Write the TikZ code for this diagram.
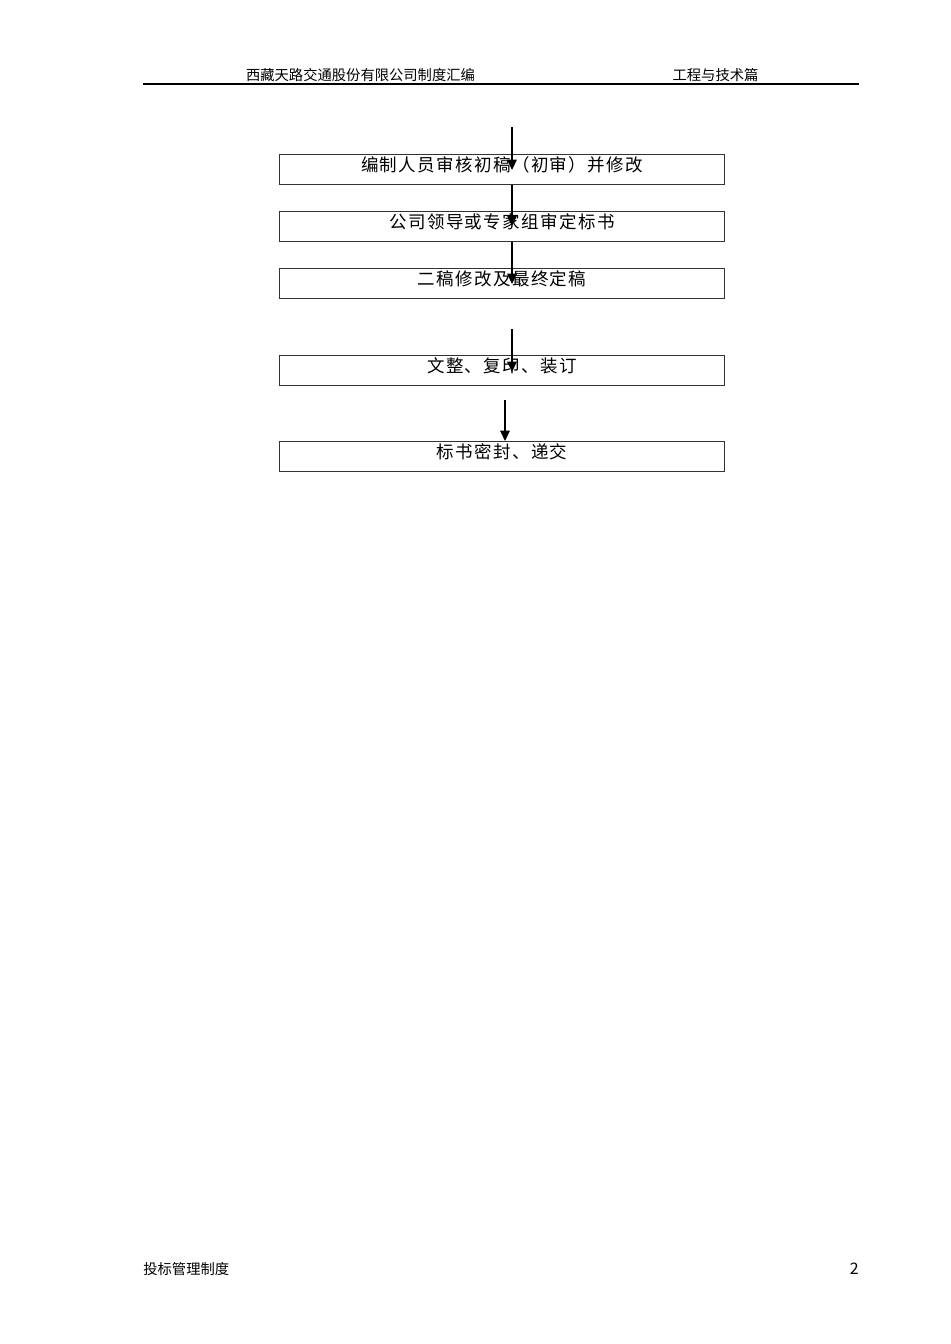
\documentclass[tikz,border=0pt]{standalone}
\usepackage{fontspec}
\setmainfont{Noto Sans CJK SC}
\usepackage{tikz}
\usetikzlibrary{
  arrows.meta,
  positioning
}

\begin{document}
\begin{tikzpicture}[
        x=0.22105mm,y=-0.22105mm,
        stepbox/.style={
            draw=black!80,
            line width=0.6pt,
            minimum width=98.37mm,
            minimum height=6.63mm,
            inner sep=0pt,
            text height=10.5pt,
            text depth=8.3pt,
            font=\addfontfeature{LetterSpace=8}\fontsize{11pt}{13pt}\selectfont,
            anchor=north west
          },
        flow/.style={
            line width=0.75pt,
            -{Triangle[width=6pt,length=6.5pt]}
          },
        pagetext/.style={
            font=\fontsize{9pt}{11pt}\selectfont,
            inner sep=0pt
          }
      ]
      \useasboundingbox (0,0) rectangle (950,1344);

      % 页眉
      \node[pagetext] (head_left) at (360.5,75) {西藏天路交通股份有限公司制度汇编};
      \node[pagetext] (head_right) at (715.5,75) {工程与技术篇};
      \coordinate (rule_l) at (143,84);
      \coordinate (rule_r) at (859,84);
      \draw[line width=1pt] (rule_l) -- (rule_r);

      % 流程框
      \node[stepbox] (review) at (279,154) {编制人员审核初稿（初审）并修改};
      \node[stepbox] (approve) at (279,211) {公司领导或专家组审定标书};
      \node[stepbox] (final) at (279,268) {二稿修改及最终定稿};
      \node[stepbox] (print) at (279,355) {文整、复印、装订};
      \node[stepbox] (seal) at (279,441) {标书密封、递交};

      % 箭头的端点
      \coordinate (in_start) at (512,127);
      \coordinate (in_tip) at (512,170);
      \coordinate (approve_tip) at (512,226);
      \coordinate (final_tip) at (512,284);
      \coordinate (print_start) at (512,329);
      \coordinate (print_tip) at (512,372);
      \coordinate (seal_start) at (505,400);
      \coordinate (seal_tip) at (505,441);

      % 箭头
      \draw[flow] (in_start) -- (in_tip);
      \draw[flow] (review.south -| in_tip) -- (approve_tip);
      \draw[flow] (approve.south -| in_tip) -- (final_tip);
      \draw[flow] (print_start) -- (print_tip);
      \draw[flow] (seal_start) -- (seal_tip);

      % 页脚
      \node[pagetext,anchor=west] (foot_left) at (143,1269) {投标管理制度};
      \node[pagetext,anchor=east,font=\fontsize{10pt}{12pt}\selectfont] (foot_page) at (859,1269) {2};

    \end{tikzpicture}
\end{document}
